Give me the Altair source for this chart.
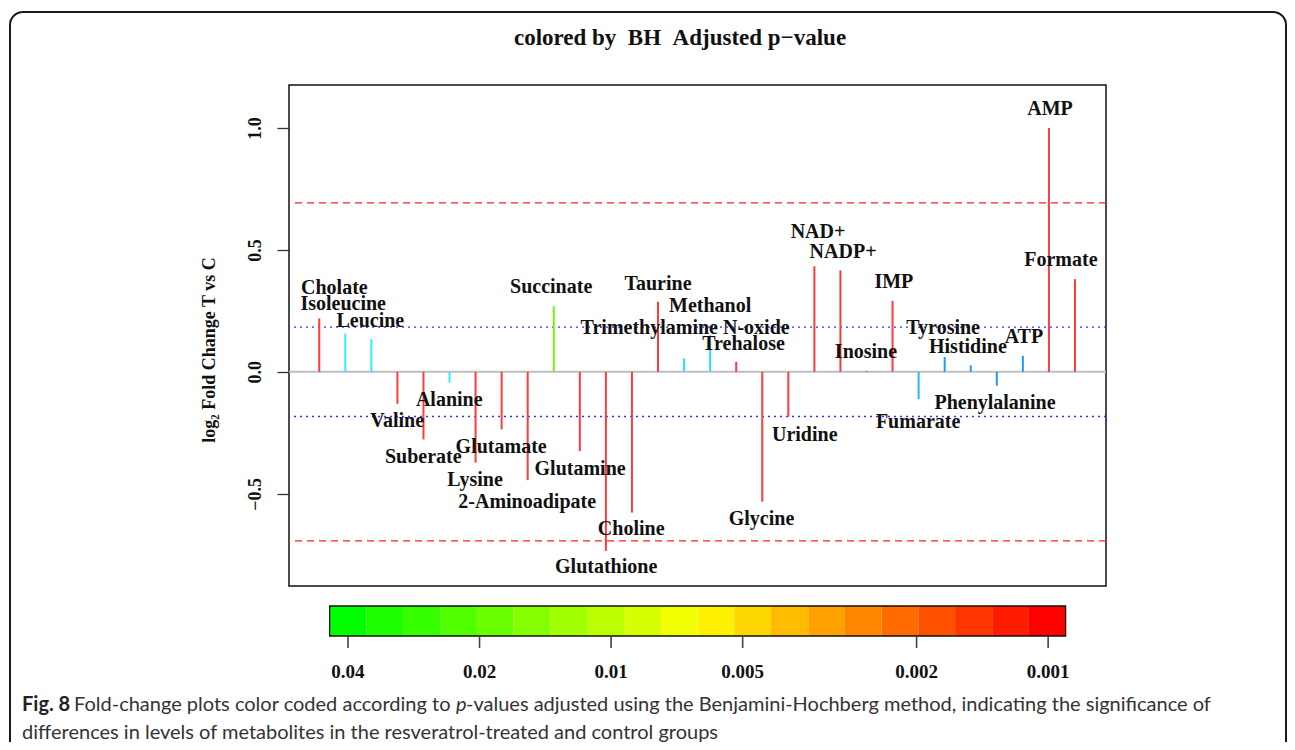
import altair as alt
import pandas as pd

# ---------------- data ----------------
metabolites = ["Cholate", "Isoleucine", "Leucine", "Valine", "Suberate", "Alanine",
               "Lysine", "Glutamate", "2-Aminoadipate", "Succinate", "Glutamine",
               "Glutathione", "Choline", "Taurine", "Trimethylamine N-oxide", "Methanol",
               "Trehalose", "Glycine", "Uridine", "NAD+", "NADP+", "Inosine", "IMP",
               "Fumarate", "Tyrosine", "Histidine", "Phenylalanine", "ATP", "AMP", "Formate"]
log2fc = [0.219, 0.157, 0.134, -0.131, -0.277, -0.044, -0.372, -0.236, -0.444, 0.269,
          -0.325, -0.734, -0.577, 0.287, 0.055, 0.150, 0.041, -0.532, -0.184, 0.433,
          0.416, 0.004, 0.291, -0.112, 0.061, 0.027, -0.057, 0.066, 1.000, 0.380]
bar_colors = ["#FF3B3B", "#2AEEFF", "#2AEEFF", "#FF3B3B", "#FF3B3B", "#2AEEFF",
              "#FF3B3B", "#FF3B3B", "#FF3B3B", "#7CEE10", "#FF3B3B",
              "#FF3B3B", "#FF3B3B", "#FF3B3B", "#2ADCFF", "#2ADCFF",
              "#FF3B3B", "#FF3B3B", "#FF3B3B", "#FF3B3B", "#FF3B3B", "#1E9AFF", "#FF3B3B",
              "#1EB8FF", "#1E9AFF", "#1E9AFF", "#1E9AFF", "#1E9AFF", "#FF3B3B", "#FF3B3B"]
# label placement (x in metabolite index units, y in log2 FC units)
label_x = [1.58, 1.92, 2.96, 3.99, 4.99, 5.99, 6.98, 7.98, 8.98, 9.90, 11.01, 12.01, 12.97,
           14.00, 15.04, 16.00, 17.28, 17.97, 19.63, 20.14, 21.10, 21.98, 23.05, 23.98,
           24.94, 25.89, 26.93, 28.04, 29.04, 29.46]
label_y = [0.342, 0.277, 0.207, -0.202, -0.350, -0.116, -0.444, -0.309, -0.534, 0.347,
           -0.399, -0.800, -0.645, 0.359, 0.179, 0.269, 0.114, -0.604, -0.258, 0.573,
           0.491, 0.081, 0.368, -0.205, 0.179, 0.101, -0.127, 0.142, 1.077, 0.458]
fc_cutoffs = [0.693, -0.693]
weak_cutoffs = [0.183, -0.183]

# colour key: 20 cells on a -log10(p) axis
key_edges = [1.356, 1.440, 1.524, 1.609, 1.693, 1.777, 1.861, 1.945, 2.030, 2.114, 2.198,
             2.282, 2.366, 2.451, 2.535, 2.619, 2.703, 2.787, 2.872, 2.956, 3.040]
key_colors = ["#00FF00", "#1BFF00", "#36FF00", "#50FF00", "#6BFF00", "#86FF00", "#A1FF00",
              "#BCFF00", "#D7FF00", "#F2FF00", "#FFF200", "#FFD700", "#FFBC00", "#FFA100",
              "#FF8600", "#FF6B00", "#FF5000", "#FF3600", "#FF1B00", "#FF0000"]
key_tick_q = [1.39794, 1.69897, 2.0, 2.30103, 2.69897, 3.0]
key_tick_labels = ["0.04", "0.02", "0.01", "0.005", "0.002", "0.001"]

title_text = "colored by\u00a0\u00a0BH\u00a0\u00a0Adjusted p\u2212value"
ylab_text = "log\u2082 Fold Change T vs C"
cap_bold = "Fig. 8"
cap_a = "Fold-change plots color coded according to"
cap_p = "p"
cap_b = "-values adjusted using the Benjamini-Hochberg method, indicating the significance of"
cap_2 = "differences in levels of metabolites in the resveratrol-treated and control groups"

# ---------------- chart ----------------
W, H = 817, 501
SERIF = "Liberation Serif"
CAPFONT = "Lato"

df = pd.DataFrame({"name": metabolites, "fc": log2fc, "col": bar_colors,
                   "idx": list(range(1, len(metabolites) + 1)),
                   "lx": label_x, "ly": label_y})
key_df = pd.DataFrame({"q0": key_edges[:-1], "q1": key_edges[1:], "col": key_colors})
key_box = pd.DataFrame({"q0": [key_edges[0]], "q1": [key_edges[-1]]})
key_ticks = pd.DataFrame({"q": key_tick_q, "lab": key_tick_labels})

xs = alt.Scale(domain=[-0.16, 31.19], nice=False, zero=False)
ys = alt.Scale(domain=[-0.878, 1.176], nice=False, zero=False)
yaxis = alt.Axis(values=[-0.5, 0, 0.5, 1.0], format=".1f", labelAngle=270,
                 labelAlign="center", labelBaseline="bottom", labelPadding=13,
                 labelFont=SERIF, labelFontWeight="bold", labelFontSize=18,
                 labelColor="#111", tickSize=12, tickColor="#333", tickWidth=1.3,
                 domain=False, grid=False, title=None)


def deco(text, x, y, **kw):
    return alt.Chart(alt.Data(values=[{"t": text}])).mark_text(**kw).encode(
        text="t:N", x=alt.value(x), y=alt.value(y))


frame = alt.Chart(alt.Data(values=[{"a": 1}])).mark_rect(
    fillOpacity=0, stroke="#1a1a1a", strokeWidth=2, cornerRadius=13).encode(
    x=alt.value(-279), x2=alt.value(997), y=alt.value(-73), y2=alt.value(700))

zero = alt.Chart(alt.Data(values=[{"v": 0}])).mark_rule(color="#BEBEBE", strokeWidth=2).encode(
    y=alt.Y("v:Q", scale=ys, axis=yaxis))
red_lines = alt.Chart(pd.DataFrame({"v": fc_cutoffs})).mark_rule(
    color="#FF2020", strokeWidth=1.3, strokeDash=[7, 5]).encode(y=alt.Y("v:Q", scale=ys))
blue_lines = alt.Chart(pd.DataFrame({"v": weak_cutoffs})).mark_rule(
    color="#3030FF", strokeWidth=1.3, strokeDash=[2, 4]).encode(y=alt.Y("v:Q", scale=ys))

bars = alt.Chart(df).mark_rule(strokeWidth=2).encode(
    x=alt.X("idx:Q", scale=xs, axis=None),
    y=alt.Y("fc:Q", scale=ys),
    y2=alt.datum(0),
    color=alt.Color("col:N", scale=None))
labels = alt.Chart(df).mark_text(font=SERIF, fontWeight="bold", fontSize=20,
                                 color="#111", align="center", baseline="middle").encode(
    x=alt.X("lx:Q", scale=xs, axis=None),
    y=alt.Y("ly:Q", scale=ys),
    text="name:N")

main = alt.layer(zero, red_lines, blue_lines, bars, labels)

qs = alt.Scale(domain=[1.263, 3.1324], nice=False, zero=False)
key_cells = alt.Chart(key_df).mark_rect().encode(
    x=alt.X("q0:Q", scale=qs, axis=None),
    x2="q1:Q",
    y=alt.value(521), y2=alt.value(551),
    color=alt.Color("col:N", scale=None))
key_outline = alt.Chart(key_box).mark_rect(fillOpacity=0, stroke="#111", strokeWidth=1.3).encode(
    x=alt.X("q0:Q", scale=qs, axis=None), x2="q1:Q",
    y=alt.value(521), y2=alt.value(551))
key_tick_marks = alt.Chart(key_ticks).mark_rect(color="#444", width=1.6).encode(
    x=alt.X("q:Q", scale=qs, axis=None), y=alt.value(551), y2=alt.value(563))
key_tick_text = alt.Chart(key_ticks).mark_text(
    font=SERIF, fontWeight="bold", fontSize=19, color="#111",
    align="center", baseline="middle").encode(
    x=alt.X("q:Q", scale=qs, axis=None), y=alt.value(587), text="lab:N")
key = alt.layer(key_cells, key_outline, key_tick_marks, key_tick_text)

title = deco(title_text, 391, -47, font=SERIF, fontWeight="bold", fontSize=23,
             color="#111", align="center", baseline="middle")
ylab = deco(ylab_text, -79, 265, font=SERIF, fontWeight="bold", fontSize=18,
            color="#111", align="center", baseline="middle", angle=270)
c1 = deco(cap_bold, -267, 620, font=CAPFONT, fontWeight="bold", fontSize=20,
          color="#222", align="left", baseline="middle")
c2 = deco(cap_a, -215, 620, font=CAPFONT, fontSize=20, color="#333",
          align="left", baseline="middle")
c3 = deco(cap_p, 167, 620, font=CAPFONT, fontStyle="italic", fontSize=20, color="#333",
          align="left", baseline="middle")
c4 = deco(cap_b, 177, 620, font=CAPFONT, fontSize=20, color="#333",
          align="left", baseline="middle")
c5 = deco(cap_2, -267, 648, font=CAPFONT, fontSize=20, color="#333",
          align="left", baseline="middle")

chart = alt.layer(frame, main, key, title, ylab, c1, c2, c3, c4, c5).resolve_scale(
    x="independent").properties(
    width=W, height=H,
    autosize=alt.AutoSizeParams(type="none"),
    padding={"left": 281, "top": 77, "right": 181, "bottom": 156},
    background="white",
).configure_view(stroke="#111", strokeWidth=1.5)

chart.save("out.html", embed_options={"renderer": "svg", "actions": False})
